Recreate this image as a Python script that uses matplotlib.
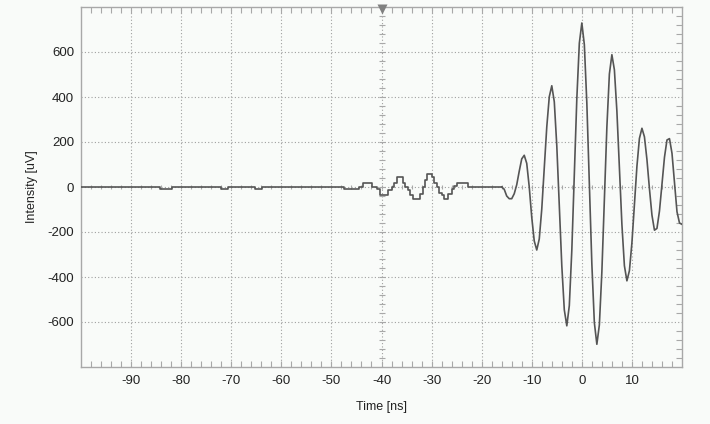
import numpy as np
import matplotlib.pyplot as plt

plt.rcParams['font.family'] = ['Liberation Sans', 'DejaVu Sans']
plt.rcParams['axes.unicode_minus'] = False

# quiet part of the trace: (segment start [ns], level [uV])
quiet_t = [-100, -84.3, -81.9, -72.1, -70.7, -65.3, -63.8, -47.5, -44.5, -43.7,
           -41.9, -40.9, -40.2, -38.7, -38.0, -37.5, -37.0, -35.8, -35.3, -34.8,
           -34.3, -33.8, -32.3, -31.8, -31.3, -30.9, -30.0, -29.5, -29.0, -28.5,
           -28.0, -27.5, -26.7, -26.0, -25.5, -24.9, -22.8, -16.0]
quiet_v = [0, -10, 0, -10, 0, -10, 0, -10, 0, 19,
           0, -10, -37, -15, 0, 20, 46, 20, 0, -15,
           -37, -52, -30, 0, 30, 60, 45, 20, 0, -25,
           -37, -52, -30, -10, 5, 19, 0, 0]

# pulse, sampled every 0.5 ns from -16 ns to 20 ns
pulse_v = [0, -10, -40, -52, -52, -30, 10, 70, 125, 141,
           105, 0, -135, -240, -280, -231, -98, 85, 267, 401,
           450, 379, 183, -83, -350, -546, -617, -527, -281, 56,
           393, 639, 729, 633, 372, 15, -342, -603, -699, -613,
           -377, -56, 266, 502, 588, 521, 337, 86, -166, -350,
           -417, -372, -248, -78, 92, 216, 261, 223, 122, -8,
           -125, -192, -184, -107, 12, 132, 209, 215, 150, 20,
           -110, -160, -166]
pulse_t = -16.0 + 0.5 * np.arange(len(pulse_v))

x_ticks = [-90, -80, -70, -60, -50, -40, -30, -20, -10, 0, 10]
y_ticks = [-600, -400, -200, 0, 200, 400, 600]
cursor_t = -40

bg = '#f9fbf9'
spine_c = '#a8a8a8'
grid_c = '#a0a0a0'
trace_c = '#555555'

fig = plt.figure(figsize=(7.1, 4.24), dpi=100, facecolor=bg)
ax = fig.add_axes([81 / 710, 1 - 367 / 424, 601 / 710, 360 / 424], facecolor=bg)

ax.set_xlim(-100, 20)
ax.set_ylim(-800, 800)

# grid
for x in x_ticks:
    ax.axvline(x, color=grid_c, lw=0.8, ls=(0, (1, 2)), zorder=1)
for y in y_ticks:
    ax.axhline(y, color=grid_c, lw=0.8, ls=(0, (1, 2)), zorder=1)

# centre axes with small ticks (oscilloscope style)
ax.plot(np.arange(-98, 20, 2), np.zeros(59), ls='none', marker='|',
        ms=3, mew=0.8, color=spine_c, zorder=2)
ax.plot(np.full(39, cursor_t), np.arange(-760, 800, 40), ls='none', marker='_',
        ms=4, mew=0.8, color=spine_c, zorder=2)
ax.plot(cursor_t, 789, marker='v', ms=7, color='#808080', mec='none',
        clip_on=False, zorder=5)

ax.step(quiet_t, quiet_v, where='post', color=trace_c, lw=1.2, zorder=3)
ax.plot(pulse_t, pulse_v, color=trace_c, lw=1.2, zorder=3)

ax.set_xticks(x_ticks)
ax.set_yticks(y_ticks)
ax.set_xticks(np.arange(-98, 20, 2), minor=True)
ax.set_yticks(np.arange(-760, 800, 40), minor=True)

ax.tick_params(axis='x', which='both', direction='in', top=True, length=4,
               width=0.8, color=spine_c, labelsize=9.5, labelcolor='#222222', pad=6)
ax.tick_params(axis='y', which='both', direction='in', left=False, right=True,
               length=4, width=0.8, color=spine_c, labelsize=9.5,
               labelcolor='#222222', pad=5)
ax.tick_params(axis='y', which='major', left=True, length=0)

for s in ax.spines.values():
    s.set_color(spine_c)
    s.set_linewidth(1.0)

ax.set_xlabel('Time [ns]', fontsize=9, color='#222222', labelpad=10)
ax.set_ylabel('Intensity [uV]', fontsize=9, color='#222222', labelpad=7)

fig.savefig('out.png', dpi=100, facecolor=bg)
